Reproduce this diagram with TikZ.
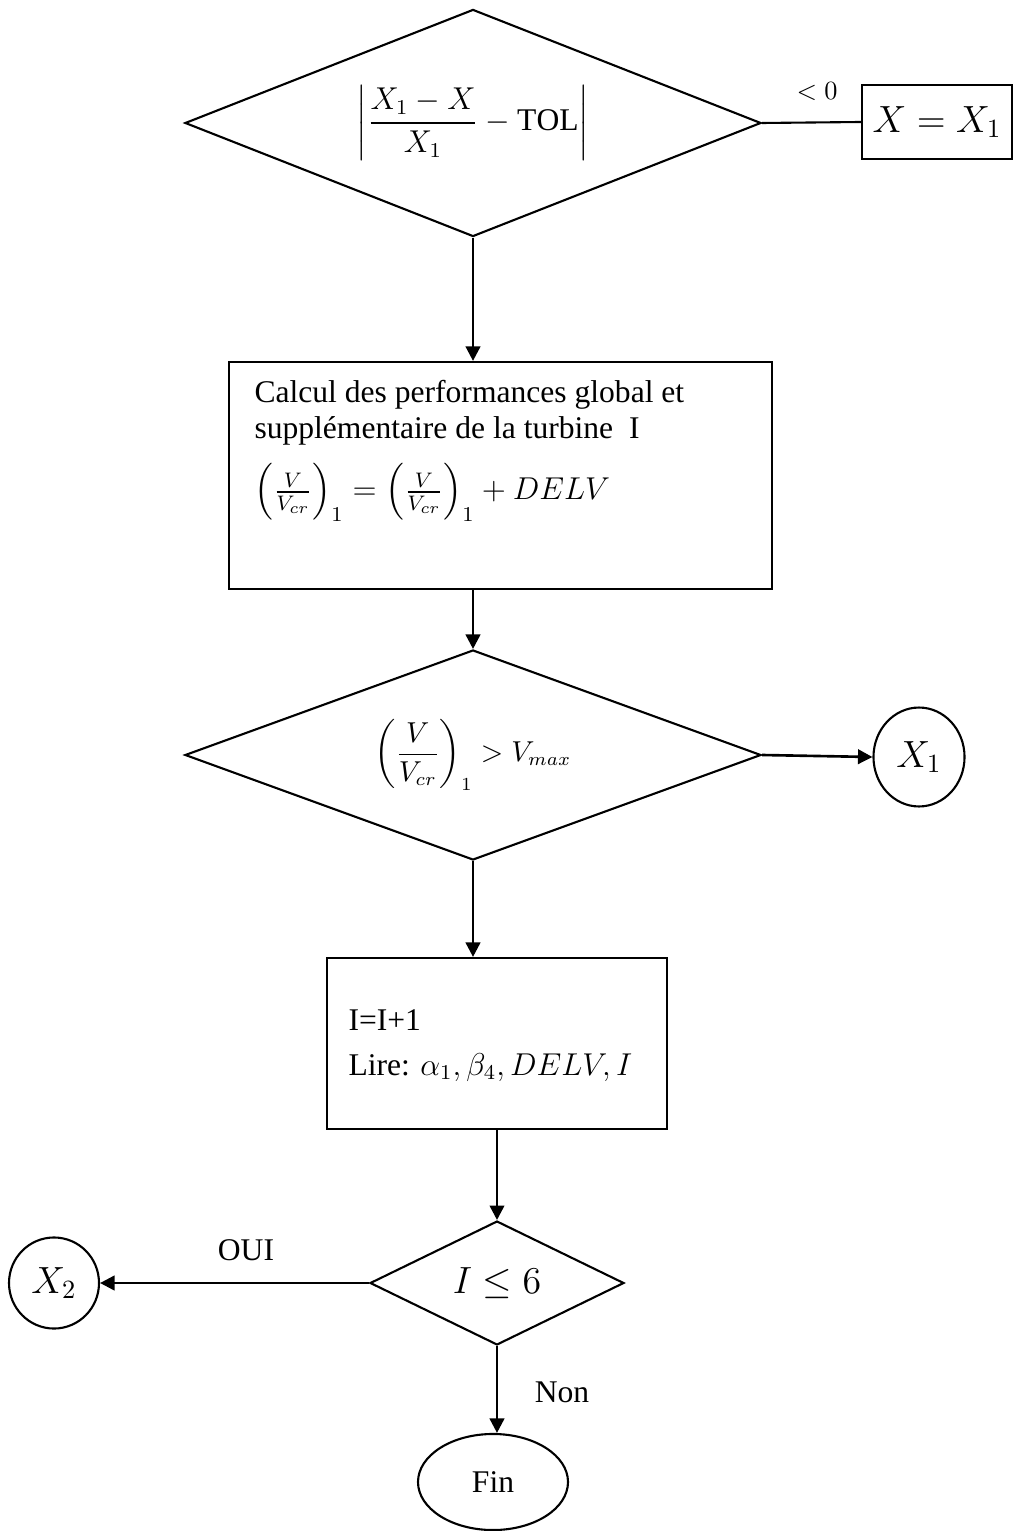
\documentclass[tikz,border=0pt]{standalone}
\usepackage{fontspec}
\setmainfont{Liberation Serif}
\usepackage{amsmath}
\usetikzlibrary{shapes.geometric,arrows.meta}
\begin{document}
\begin{tikzpicture}[x=0.38pt,y=-0.38pt,
  every node/.style={font=\fontsize{12}{14}\selectfont},
  decision/.style={diamond,draw,line width=0.8pt,inner sep=0pt},
  procbox/.style={rectangle,draw,line width=0.8pt,inner sep=0pt},
  connector/.style={ellipse,draw,line width=0.8pt,inner sep=0pt},
  txt/.style={inner sep=0pt,anchor=base west},
  bigmath/.style={font=\fontsize{14}{16}\selectfont},
  flow/.style={line width=1pt,-{Triangle[length=5.5pt,width=5.5pt]}},
  plain/.style={line width=0.8pt}]
\useasboundingbox (0,0) rectangle (1014,1531);

% first decision
\node[decision,shape aspect=2.54,minimum width=218.9pt,minimum height=86.3pt,font=\fontsize{12}{14}\selectfont] (d1) at (473,123)
  {$\displaystyle\left|\frac{X_1-X}{X_1}-\mathrm{TOL}\right|$};
\node[procbox,minimum width=57pt,minimum height=28.1pt,bigmath] (b1) at (937,122) {$X=X_1$};
\draw[plain] (d1.east) -- (b1.west);
\node[font=\fontsize{10}{12}\selectfont] (lt) at (817,92) {$<0$};

% calculation box
\node[procbox,minimum width=206.3pt,minimum height=86.3pt] (b2) at (500.5,475.5) {};
\node[txt] (b2a) at (254,403) {Calcul des performances global et};
\node[txt] (b2b) at (254,439) {supplémentaire de la turbine\ \ I};
\node[txt] (b2c) at (254,500) {$\left(\frac{V}{V_{cr}}\right)_{1} = \left(\frac{V}{V_{cr}}\right)_{1} + DELV$};
\draw[flow] (d1.south) -- (d1.south |- b2.north);

% second decision
\node[decision,shape aspect=2.74,minimum width=218.9pt,minimum height=79.8pt,font=\fontsize{10.5}{12}\selectfont] (d2) at (473,755)
  {$\displaystyle\left(\frac{V}{V_{cr}}\right)_{1} > V_{max}$};
\draw[flow] (b2.south -| d2.north) -- (d2.north);
\node[connector,minimum width=34.6pt,minimum height=37.6pt,bigmath] (x1) at (919,757) {$X_1$};
\draw[flow] (d2.east) -- (x1.west);

% increment box
\node[procbox,minimum width=129.2pt,minimum height=65pt] (b3) at (497,1043.5) {};
\node[txt] (b3a) at (348,1030) {I=I+1};
\node[txt] (b3b) at (348,1075) {Lire: $\alpha_1, \beta_4, DELV, I$};
\draw[flow] (d2.south) -- (d2.south |- b3.north);

% third decision
\node[decision,shape aspect=2.05,minimum width=96.5pt,minimum height=47.1pt,bigmath] (d3) at (497,1283) {$I \leq 6$};
\draw[flow] (b3.south) -- (d3.north);
\node[connector,minimum width=34.2pt,minimum height=34.6pt,bigmath] (x2) at (54,1283) {$X_2$};
\draw[flow] (d3.west) -- (x2.east);
\node (oui) at (246,1250) {OUI};
\node[connector,minimum width=57pt,minimum height=36.5pt] (fin) at (493,1482) {Fin};
\draw[flow] (d3.south) -- (d3.south |- fin.north);
\node (non) at (562,1392) {Non};
\end{tikzpicture}
\end{document}
